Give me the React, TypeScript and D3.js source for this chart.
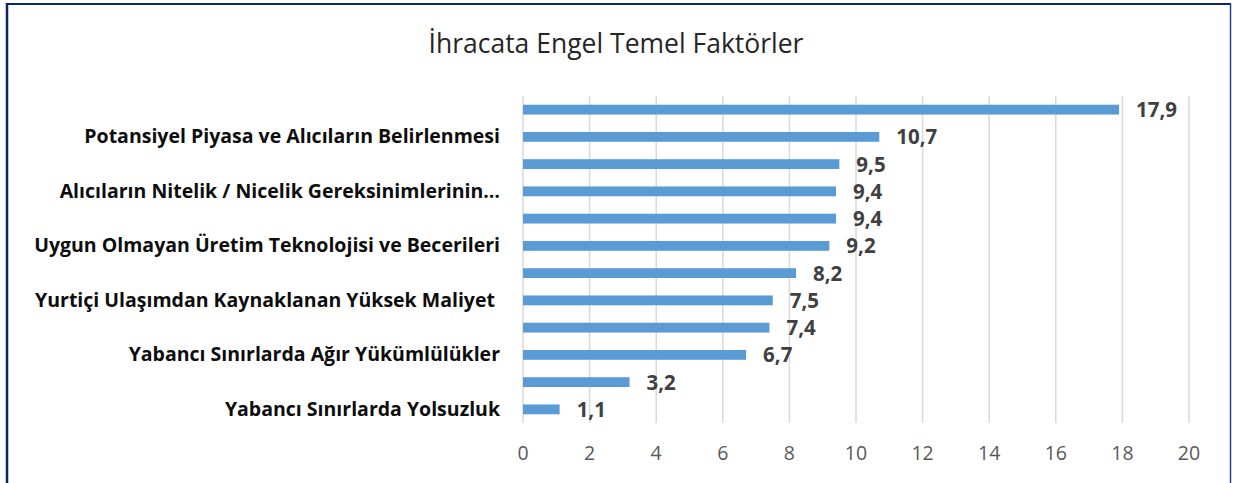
import * as d3 from "d3";
import React, { useEffect, useRef } from "react";

const title = "İhracata Engel Temel Faktörler";

// every other category label is hidden in the original (Excel skipped them)
const categories = [
  "",
  "Potansiyel Piyasa ve Alıcıların Belirlenmesi",
  "",
  "Alıcıların Nitelik / Nicelik Gereksinimlerinin…",
  "",
  "Uygun Olmayan Üretim Teknolojisi ve Becerileri",
  "",
  "Yurtiçi Ulaşımdan Kaynaklanan Yüksek Maliyet ",
  "",
  "Yabancı Sınırlarda Ağır Yükümlülükler",
  "",
  "Yabancı Sınırlarda Yolsuzluk",
];
const values = [17.9, 10.7, 9.5, 9.4, 9.4, 9.2, 8.2, 7.5, 7.4, 6.7, 3.2, 1.1];
const xTicks = [0, 2, 4, 6, 8, 10, 12, 14, 16, 18, 20];

const W = 1237;
const H = 483;
const FONT = "'Open Sans', Lato, sans-serif";

export default function App() {
  const ref = useRef<SVGSVGElement>(null);

  useEffect(() => {
    const svg = d3.select(ref.current);
    svg.selectAll("*").remove();

    const left = 523;
    const right = 1189;
    const top = 96;
    const bottom = 423;

    const x = d3.scaleLinear().domain([0, 20]).range([left, right]);
    const y = d3
      .scaleBand<number>()
      .domain(values.map((_, i) => i))
      .range([top, bottom])
      .paddingInner(0.64)
      .paddingOuter(0.32);

    svg.append("rect").attr("width", W).attr("height", H).attr("fill", "#fff");

    // frame
    svg.append("line").attr("x1", 7).attr("x2", 7).attr("y1", 3).attr("y2", H)
      .attr("stroke", "#0c2566").attr("stroke-width", 2.5);
    svg.append("line").attr("x1", 6).attr("x2", 1231).attr("y1", 4).attr("y2", 4)
      .attr("stroke", "#0c2566").attr("stroke-width", 2);
    svg.append("line").attr("x1", 1230.5).attr("x2", 1230.5).attr("y1", 3).attr("y2", H)
      .attr("stroke", "#24448f").attr("stroke-width", 1.5);

    svg.append("text")
      .attr("x", 616)
      .attr("y", 46)
      .attr("text-anchor", "middle")
      .attr("dominant-baseline", "middle")
      .style("font-family", FONT)
      .style("font-size", "26.5px")
      .attr("fill", "#262626")
      .text(title);

    // gridlines
    svg.append("g")
      .selectAll("line")
      .data(xTicks)
      .join("line")
      .attr("x1", (d) => x(d))
      .attr("x2", (d) => x(d))
      .attr("y1", top)
      .attr("y2", bottom)
      .attr("stroke", "#d9d9d9")
      .attr("stroke-width", 1.5);

    svg.append("g")
      .selectAll("text")
      .data(xTicks)
      .join("text")
      .attr("x", (d) => x(d))
      .attr("y", 455)
      .attr("text-anchor", "middle")
      .attr("dominant-baseline", "middle")
      .style("font-family", FONT)
      .style("font-size", "19.5px")
      .attr("fill", "#595959")
      .text((d) => d);

    svg.append("g")
      .selectAll("rect")
      .data(values)
      .join("rect")
      .attr("x", x(0))
      .attr("y", (_, i) => y(i)!)
      .attr("width", (d) => x(d) - x(0))
      .attr("height", y.bandwidth())
      .attr("fill", "#5b9bd5");

    svg.append("g")
      .selectAll("text")
      .data(values)
      .join("text")
      .attr("x", (d) => x(d) + 17)
      .attr("y", (_, i) => y(i)! + y.bandwidth() / 2 + 2)
      .attr("dominant-baseline", "middle")
      .style("font-family", FONT)
      .style("font-size", "20.5px")
      .style("font-weight", "bold")
      .attr("fill", "#404040")
      .text((d) => String(d).replace(".", ","));

    svg.append("g")
      .selectAll("text")
      .data(categories)
      .join("text")
      .attr("x", 500)
      .attr("y", (_, i) => y(i)! + y.bandwidth() / 2 + 1)
      .attr("text-anchor", "end")
      .attr("dominant-baseline", "middle")
      .style("font-family", FONT)
      .style("font-size", "19.5px")
      .style("font-weight", "bold")
      .style("white-space", "pre")
      .attr("fill", "#0d0d0d")
      .text((d) => d);
  }, []);

  return (
    <svg
      ref={ref}
      width={W}
      height={H}
      style={{ position: "absolute", left: 0, top: 0, display: "block" }}
    />
  );
}
